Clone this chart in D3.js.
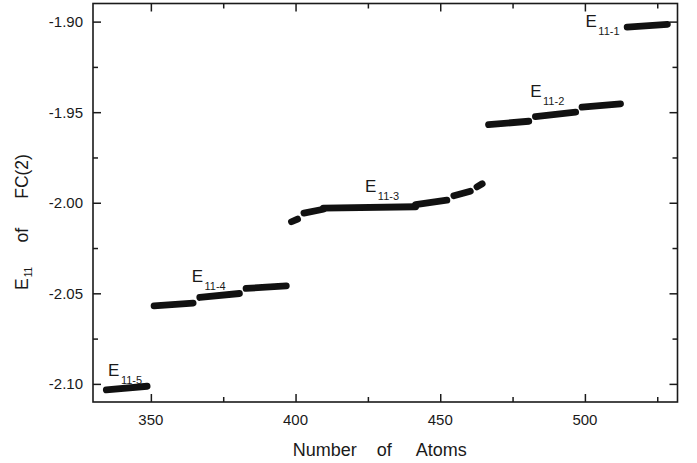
<!DOCTYPE html>
<html lang="en">
<head>
    <meta charset="UTF-8">
    <title>E11 of FC(2) vs Number of Atoms</title>
    <script src="https://d3js.org/d3.v7.min.js"></script>
    <style>
        body { margin: 0; background: #fff; }
        text { font-family: "Liberation Sans", Arial, Helvetica, sans-serif; fill: #1a1a1a; }
        .tick-label { font-size: 15px; }
        .axis-title { font-size: 17.5px; white-space: pre; }
    </style>
</head>
<body>
    <svg width="697" height="463"></svg>
    <script>
        // plateaus of points: start/end atom number and E11 value
        const segStartN = [334.6, 351.1, 366.9, 382.9, 398.6, 402.9, 409.6, 441.5, 454.7, 462.7, 466.7, 482.9, 499.0, 514.6];
        const segEndN   = [348.7, 364.6, 380.6, 396.8, 400.7, 409.6, 441.5, 452.3, 460.4, 464.5, 480.6, 496.8, 512.3, 528.5];
        const segStartE = [-2.1033, -2.0569, -2.0523, -2.0473, -2.0105, -2.0057, -2.0030, -2.0010, -1.9961, -1.9912, -1.9569, -1.9524, -1.9472, -1.9030];
        const segEndE   = [-2.1013, -2.0554, -2.0501, -2.0459, -2.0090, -2.0036, -2.0022, -1.9986, -1.9936, -1.9895, -1.9550, -1.9500, -1.9454, -1.9015];

        const labelSub = ["11-1", "11-2", "11-3", "11-4", "11-5"];
        const labelN   = [500.2, 481.1, 424.0, 364.1, 335.2];
        const labelE   = [-1.9030, -1.9415, -1.9943, -2.0440, -2.0954];

        const xMajor = [350, 400, 450, 500];
        const xMinor = [375, 425, 475, 525];
        const yMajor = [-2.10, -2.05, -2.00, -1.95, -1.90];
        const yMinor = [-2.075, -2.025, -1.975, -1.925];

        const margin = {top: 3.5, right: 19.5, bottom: 61, left: 93};
        const width = 697 - margin.left - margin.right;
        const height = 463 - margin.top - margin.bottom;

        const x = d3.scaleLinear().domain([330, 532]).range([0, width]);
        const y = d3.scaleLinear().domain([-2.11, -1.89]).range([height, 0]);

        const svg = d3.select("svg");
        const g = svg.append("g").attr("transform", `translate(${margin.left},${margin.top})`);

        // ticks pointing inward on all four sides
        function addAxis(axis, tf) {
            const a = g.append("g").attr("transform", tf).call(axis);
            a.select(".domain").remove();
            a.selectAll("line").attr("stroke", "#1a1a1a").attr("stroke-width", 1.5);
            a.selectAll("text").remove();
        }
        addAxis(d3.axisBottom(x).tickValues(xMajor).tickSize(-8), `translate(0,${height})`);
        addAxis(d3.axisBottom(x).tickValues(xMinor).tickSize(-5), `translate(0,${height})`);
        addAxis(d3.axisTop(x).tickValues(xMajor).tickSize(-8), "translate(0,0)");
        addAxis(d3.axisTop(x).tickValues(xMinor).tickSize(-5), "translate(0,0)");
        addAxis(d3.axisLeft(y).tickValues(yMajor).tickSize(-8), "translate(0,0)");
        addAxis(d3.axisLeft(y).tickValues(yMinor).tickSize(-5), "translate(0,0)");
        addAxis(d3.axisRight(y).tickValues(yMajor).tickSize(-8), `translate(${width},0)`);
        addAxis(d3.axisRight(y).tickValues(yMinor).tickSize(-5), `translate(${width},0)`);

        g.append("rect")
            .attr("width", width)
            .attr("height", height)
            .attr("fill", "none")
            .attr("stroke", "#1a1a1a")
            .attr("stroke-width", 1.6);

        // tick labels
        g.selectAll("text.xl")
            .data(xMajor)
            .enter().append("text")
            .attr("class", "tick-label xl")
            .attr("x", d => x(d))
            .attr("y", height + 22.5)
            .attr("text-anchor", "middle")
            .text(d => d);

        g.selectAll("text.yl")
            .data(yMajor)
            .enter().append("text")
            .attr("class", "tick-label yl")
            .attr("x", -10)
            .attr("y", d => y(d) + 5.5)
            .attr("text-anchor", "end")
            .text(d => d.toFixed(2));

        // data: thick dotted plateaus
        const segs = segStartN.map((n, i) => ({n0: n, n1: segEndN[i], e0: segStartE[i], e1: segEndE[i]}));
        g.selectAll("line.seg")
            .data(segs)
            .enter().append("line")
            .attr("class", "seg")
            .attr("x1", d => x(d.n0))
            .attr("y1", d => y(d.e0))
            .attr("x2", d => x(d.n1))
            .attr("y2", d => y(d.e1))
            .attr("stroke", "#111")
            .attr("stroke-width", 6.8)
            .attr("stroke-linecap", "round");

        // E11-k annotations
        const lab = g.selectAll("text.lab")
            .data(labelSub)
            .enter().append("text")
            .attr("class", "lab")
            .attr("x", (d, i) => x(labelN[i]))
            .attr("y", (d, i) => y(labelE[i]))
            .style("font-size", "17px");
        lab.append("tspan").text("E");
        lab.append("tspan")
            .attr("dx", 1.5)
            .attr("dy", 8)
            .style("font-size", "11px")
            .text(d => d);

        // axis titles
        svg.append("text")
            .attr("class", "axis-title")
            .attr("x", margin.left + width / 2 - 5.5)
            .attr("y", 456)
            .attr("text-anchor", "middle")
            .style("font-size", "18px")
            .text("Number    of     Atoms");

        const yt = svg.append("text")
            .attr("class", "axis-title")
            .attr("transform", "translate(27.5,222) rotate(-90)")
            .attr("text-anchor", "middle");
        yt.append("tspan").text("E");
        yt.append("tspan").attr("dx", 1).attr("dy", 4).style("font-size", "10px").text("11");
        yt.append("tspan").attr("dy", -4).text("     of      FC(2)");
    </script>
</body>
</html>
